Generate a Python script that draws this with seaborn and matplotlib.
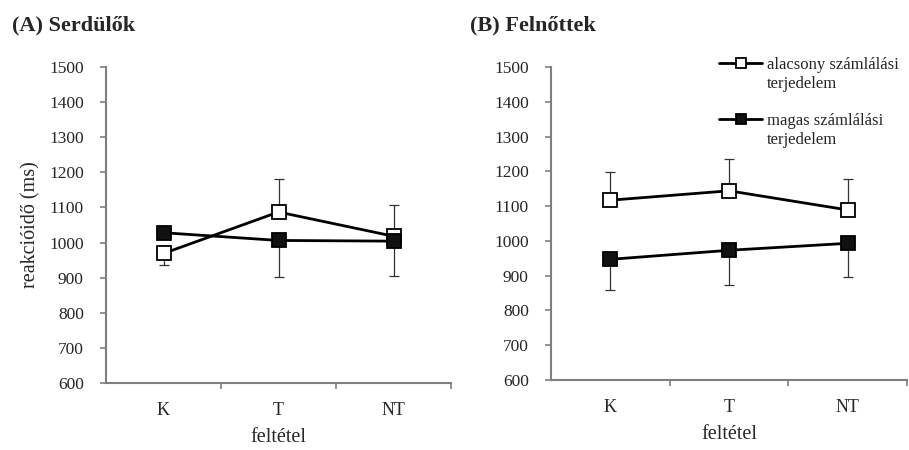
import numpy as np
import pandas as pd
import matplotlib
matplotlib.use('Agg')
import matplotlib.pyplot as plt
from matplotlib.lines import Line2D
import seaborn as sns

# adatok (leolvasva az ábráról)
feltetel = ['K', 'T', 'NT']
sorozatok = ['alacsony számlálási', 'magas számlálási']
masodik_sor = 'terjedelem'

# (A) Serdülők
serd_alacsony = [969, 1087, 1018]
serd_magas = [1028, 1006, 1004]
serd_alacsony_le = [32, 0, 0]
serd_alacsony_fel = [0, 93, 90]
serd_magas_le = [0, 104, 99]
serd_magas_fel = [0, 0, 0]

# (B) Felnőttek
feln_alacsony = [1117, 1144, 1089]
feln_magas = [947, 973, 993]
feln_alacsony_le = [0, 0, 0]
feln_alacsony_fel = [80, 91, 89]
feln_magas_le = [88, 100, 96]
feln_magas_fel = [0, 0, 0]

sns.set_style('white')
plt.rcParams['font.family'] = ['Liberation Serif', 'DejaVu Serif']

szurke = '#7f7f7f'

fig = plt.figure(figsize=(9.09, 4.5), dpi=100)
ax_a = fig.add_axes([106 / 909, 1 - 383 / 450, 345 / 909, 316 / 450])
ax_b = fig.add_axes([551 / 909, 1 - 380 / 450, 356 / 909, 313 / 450])


def panel(ax, alacsony, magas, err_al, err_ma):
    df = pd.DataFrame({
        'feltétel': feltetel * 2,
        'rt': alacsony + magas,
        'csoport': [sorozatok[0]] * 3 + [sorozatok[1]] * 3,
    })
    x = np.arange(len(feltetel))
    ax.errorbar(x, alacsony, yerr=err_al, fmt='none', ecolor='#333333',
                elinewidth=0.9, capsize=3.6, capthick=0.9, zorder=1)
    ax.errorbar(x, magas, yerr=err_ma, fmt='none', ecolor='#333333',
                elinewidth=0.9, capsize=3.6, capthick=0.9, zorder=1)
    sns.lineplot(data=df[df['csoport'] == sorozatok[0]], x='feltétel', y='rt',
                 ax=ax, color='black', lw=2, marker='s', markersize=9.5,
                 markerfacecolor='white', markeredgecolor='black',
                 markeredgewidth=1.3, label=sorozatok[0], zorder=3)
    sns.lineplot(data=df[df['csoport'] == sorozatok[1]], x='feltétel', y='rt',
                 ax=ax, color='black', lw=2, marker='s', markersize=9.5,
                 markerfacecolor='#111111', markeredgecolor='black',
                 markeredgewidth=1.3, label=sorozatok[1], zorder=3)
    ax.set_xlim(-0.5, 2.5)
    ax.set_ylim(600, 1500)
    ax.set_yticks(range(600, 1501, 100))
    ax.set_xticks(x)
    ax.set_xticklabels(feltetel)
    ax.set_xticks([0.5, 1.5, 2.5], minor=True)
    ax.tick_params(axis='x', which='major', length=0, pad=14, labelsize=13)
    ax.tick_params(axis='x', which='minor', length=4, width=1.2, color=szurke,
                   direction='out', bottom=True)
    ax.tick_params(axis='y', length=4, width=1.2, color=szurke, direction='out',
                   left=True, labelsize=12.5, pad=12)
    for s in ['top', 'right']:
        ax.spines[s].set_visible(False)
    for s in ['left', 'bottom']:
        ax.spines[s].set_color(szurke)
        ax.spines[s].set_linewidth(1.5)
    ax.set_xlabel('feltétel', fontsize=14.5, labelpad=6)
    ax.set_ylabel('')


panel(ax_a, serd_alacsony, serd_magas,
      [serd_alacsony_le, serd_alacsony_fel], [serd_magas_le, serd_magas_fel])
panel(ax_b, feln_alacsony, feln_magas,
      [feln_alacsony_le, feln_alacsony_fel], [feln_magas_le, feln_magas_fel])

ax_a.set_ylabel('reakcióidő (ms)', fontsize=14.5, labelpad=6)
ax_a.get_legend().remove()

# jelmagyarázat: a jel az első sorhoz igazítva, két külön blokkban
handles, labels = ax_b.get_legend_handles_labels()
ax_b.get_legend().remove()
ures = Line2D([], [], color='none')
leg_kw = dict(loc='upper left', frameon=False, fontsize=12, handlelength=2.6,
              handletextpad=0.3, labelspacing=0.15, markerscale=0.8,
              borderpad=0, borderaxespad=0)
leg1 = ax_b.legend([handles[0], ures], [labels[0], masodik_sor],
                   bbox_to_anchor=(168 / 356, 1 - (57 - 67) / 313), **leg_kw)
ax_b.add_artist(leg1)
ax_b.legend([handles[1], ures], [labels[1], masodik_sor],
            bbox_to_anchor=(168 / 356, 1 - (113 - 67) / 313), **leg_kw)

fig.text(12 / 909, 1 - 30 / 450, '(A) Serdülők', fontsize=16, fontweight='bold')
fig.text(470 / 909, 1 - 30 / 450, '(B) Felnőttek', fontsize=16, fontweight='bold')

plt.savefig('out.png', dpi=100)
plt.close()
